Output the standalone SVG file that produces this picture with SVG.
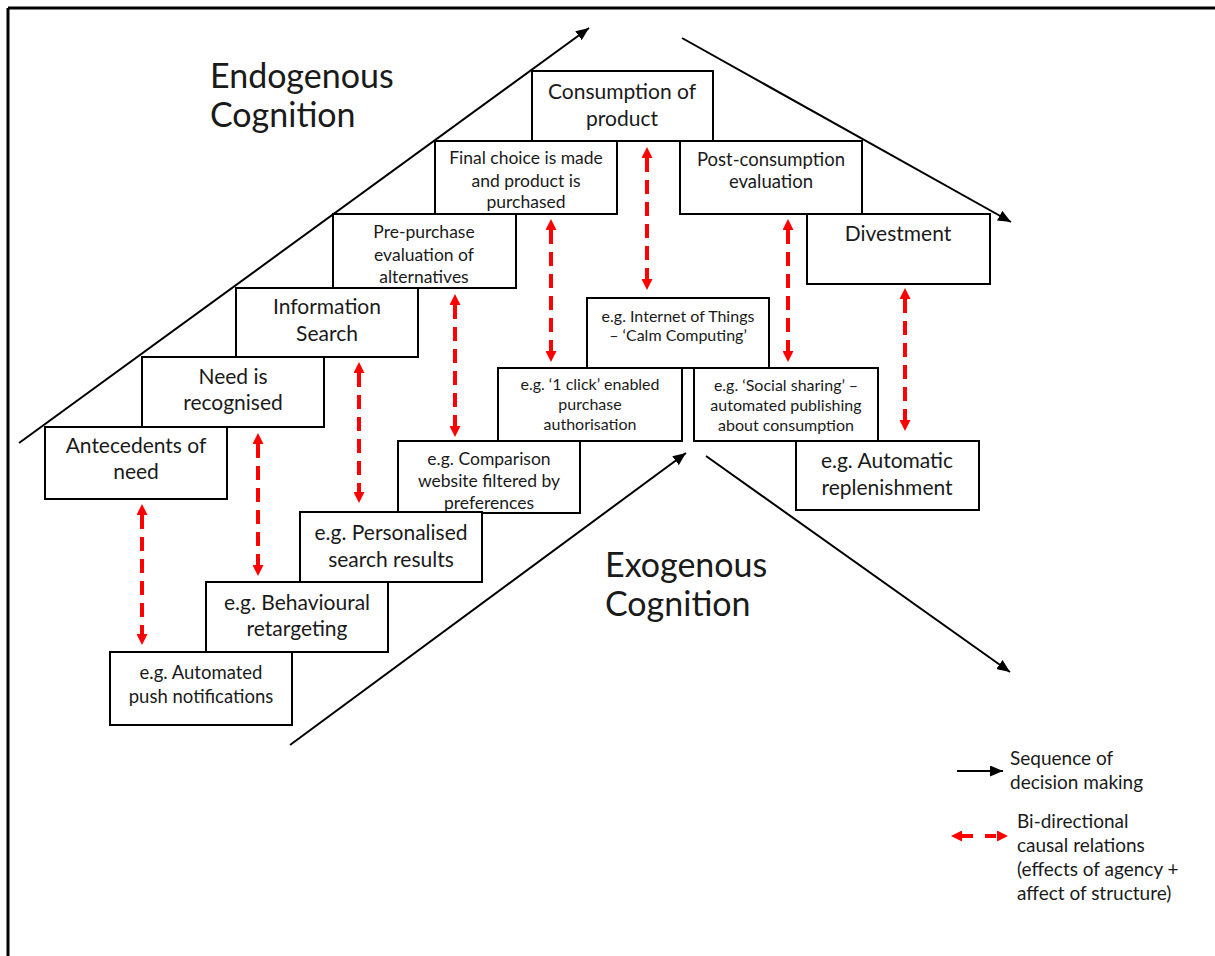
<svg xmlns="http://www.w3.org/2000/svg" width="1215" height="956" viewBox="0 0 1215 956">
<style>
.box{fill:#fff;stroke:#000;stroke-width:2}
.t{font-family:Lato,"Liberation Sans",sans-serif;fill:#1a1a1a;text-anchor:middle}
.b{font-size:21px}
.m{font-size:17.5px}
.s{font-size:16px}
.p{font-size:18.5px}
.title{font-family:Lato,"Liberation Sans",sans-serif;fill:#1a1a1a;font-size:34px}
.leg{font-family:Lato,"Liberation Sans",sans-serif;fill:#1a1a1a;font-size:19px}
.seq{stroke:#000;stroke-width:2;fill:none;marker-end:url(#arr)}
.bi{stroke:#ff0000;stroke-width:4;fill:none;stroke-dasharray:14 8;marker-start:url(#rarr);marker-end:url(#rarr)}
</style>
<defs>
<marker id="arr" markerUnits="userSpaceOnUse" markerWidth="13" markerHeight="11" viewBox="0 0 13 11" refX="13" refY="5.5" orient="auto"><path d="M0,0 L13,5.5 L0,11 z" fill="#000"/></marker>
<marker id="rarr" markerUnits="userSpaceOnUse" markerWidth="11" markerHeight="11" viewBox="0 0 11 11" refX="0" refY="5.5" orient="auto-start-reverse"><path d="M0,0 L11,5.5 L0,11 z" fill="#ff0000"/></marker>
</defs>
<rect width="1215" height="956" fill="#fff"/>
<g id="frame" stroke="#000" stroke-width="3">
<line x1="8" y1="8" x2="1215" y2="8"/>
<line x1="8" y1="8" x2="8" y2="956"/>
</g>
<g id="connectors">
<line class="seq" x1="19" y1="443" x2="589" y2="28"/>
<line class="seq" x1="682" y1="38" x2="1011" y2="222"/>
<line class="seq" x1="290" y1="745" x2="686" y2="453"/>
<line class="seq" x1="706" y1="456" x2="1010" y2="672"/>
<line class="bi" x1="142" y1="515" x2="142" y2="634"/>
<line class="bi" x1="258" y1="444" x2="258" y2="565"/>
<line class="bi" x1="359" y1="373" x2="359" y2="492"/>
<line class="bi" x1="455" y1="305" x2="455" y2="426"/>
<line class="bi" x1="551" y1="230" x2="551" y2="351"/>
<line class="bi" x1="647" y1="158" x2="647" y2="279"/>
<line class="bi" x1="788" y1="230" x2="788" y2="351"/>
<line class="bi" x1="905" y1="299" x2="905" y2="420"/>
</g>
<g id="labels">
<text class="title" x="210" y="88">Endogenous</text>
<text class="title" x="210" y="127">Cognition</text>
<text class="title" x="605" y="577">Exogenous</text>
<text class="title" x="605" y="616">Cognition</text>
</g>
<g id="n-antecedents"><rect class="box" x="45" y="427" width="182" height="72"/><text class="t b" x="136" y="453">Antecedents of</text><text class="t b" x="136" y="479">need</text></g>
<g id="n-need"><rect class="box" x="142" y="357" width="182" height="70"/><text class="t b" x="233" y="384">Need is</text><text class="t b" x="233" y="410">recognised</text></g>
<g id="n-info"><rect class="box" x="236" y="288" width="182" height="69"/><text class="t b" x="327" y="314">Information</text><text class="t b" x="327" y="341">Search</text></g>
<g id="n-prepurchase"><rect class="box" x="333" y="214" width="183" height="74"/><text class="t m" x="424" y="238">Pre-purchase</text><text class="t m" x="424" y="261">evaluation of</text><text class="t m" x="424" y="283">alternatives</text></g>
<g id="n-final"><rect class="box" x="435" y="141" width="182" height="73"/><text class="t m" x="526" y="164">Final choice is made</text><text class="t m" x="526" y="187">and product is</text><text class="t m" x="526" y="208">purchased</text></g>
<g id="n-consumption"><rect class="box" x="532" y="71" width="181" height="70"/><text class="t b" x="622" y="99">Consumption of</text><text class="t b" x="622" y="126">product</text></g>
<g id="n-post"><rect class="box" x="680" y="141" width="182" height="73"/><text class="t p" x="771" y="166">Post-consumption</text><text class="t p" x="771" y="188">evaluation</text></g>
<g id="n-divest"><rect class="box" x="807" y="214" width="183" height="70"/><text class="t b" x="898" y="241">Divestment</text></g>
<g id="n-iot"><rect class="box" x="587" y="298" width="182" height="70"/><text class="t s" x="678" y="322">e.g. Internet of Things</text><text class="t s" x="678" y="341">– ‘Calm Computing’</text></g>
<g id="n-oneclick"><rect class="box" x="498" y="368" width="184" height="73"/><text class="t s" x="590" y="390">e.g. ‘1 click’ enabled</text><text class="t s" x="590" y="410">purchase</text><text class="t s" x="590" y="430">authorisation</text></g>
<g id="n-social"><rect class="box" x="694" y="368" width="184" height="73"/><text class="t s" x="786" y="391">e.g. ‘Social sharing’ –</text><text class="t s" x="786" y="411">automated publishing</text><text class="t s" x="786" y="431">about consumption</text></g>
<g id="n-replenish"><rect class="box" x="796" y="441" width="183" height="69"/><text class="t b" x="887" y="468">e.g. Automatic</text><text class="t b" x="887" y="495">replenishment</text></g>
<g id="n-comparison"><rect class="box" x="398" y="441" width="182" height="72"/><text class="t m" x="489" y="465">e.g. Comparison</text><text class="t m" x="489" y="487">website filtered by</text><text class="t m" x="489" y="509">preferences</text></g>
<g id="n-personalised"><rect class="box" x="300" y="512" width="182" height="70"/><text class="t b" x="391" y="540">e.g. Personalised</text><text class="t b" x="391" y="567">search results</text></g>
<g id="n-behavioural"><rect class="box" x="206" y="582" width="182" height="70"/><text class="t b" x="297" y="610">e.g. Behavioural</text><text class="t b" x="297" y="636">retargeting</text></g>
<g id="n-push"><rect class="box" x="110" y="652" width="182" height="73"/><text class="t p" x="201" y="679">e.g. Automated</text><text class="t p" x="201" y="703">push notifications</text></g>
<g id="legend">
<line x1="957" y1="771" x2="1003" y2="771" class="seq"/>
<text class="leg" x="1010" y="765">Sequence of</text>
<text class="leg" x="1010" y="789">decision making</text>
<line x1="962" y1="836" x2="997" y2="836" stroke="#ff0000" stroke-width="4" stroke-dasharray="11 12" marker-start="url(#rarr)" marker-end="url(#rarr)"/>
<text class="leg" x="1017" y="828">Bi-directional</text>
<text class="leg" x="1017" y="852">causal relations</text>
<text class="leg" x="1017" y="876">(effects of agency +</text>
<text class="leg" x="1017" y="900">affect of structure)</text>
</g>
</svg>
